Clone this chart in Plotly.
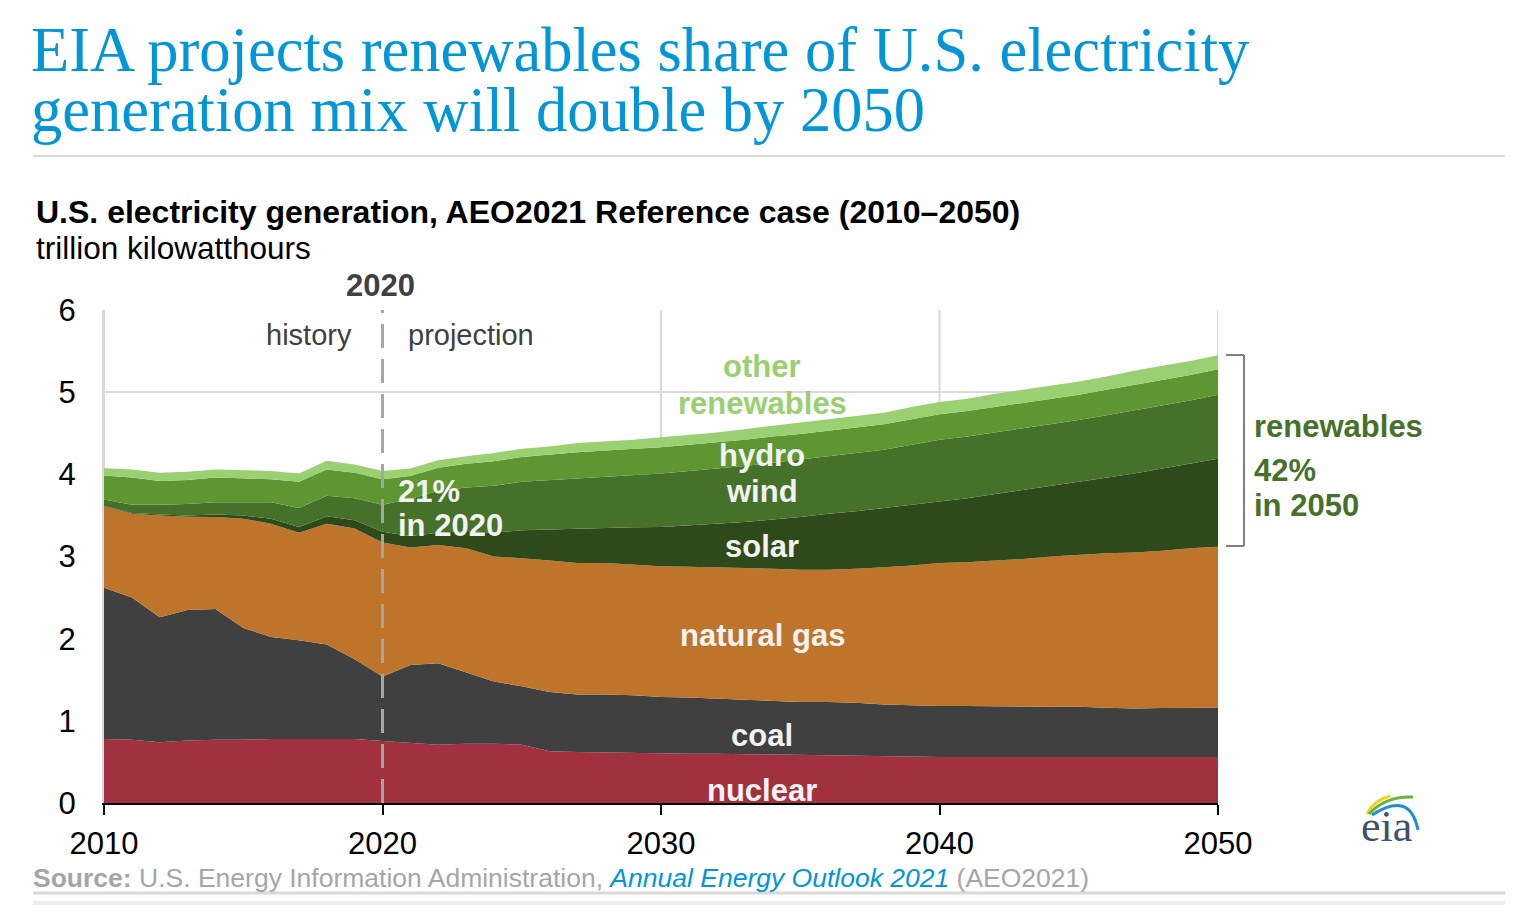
import plotly.graph_objects as go

# U.S. electricity generation, trillion kWh (AEO2021 Reference case)
years = list(range(2010, 2051))

nuclear = [0.78, 0.77, 0.74, 0.76, 0.77, 0.77, 0.78, 0.78, 0.78, 0.78, 0.755,
           0.73, 0.71, 0.72, 0.72, 0.71, 0.63, 0.62, 0.615, 0.605, 0.605,
           0.60, 0.60, 0.595, 0.59, 0.58, 0.575, 0.57, 0.565, 0.56, 0.56,
           0.56, 0.56, 0.565, 0.565, 0.565, 0.565, 0.56, 0.56, 0.56, 0.56]
coal = [1.84, 1.73, 1.52, 1.59, 1.59, 1.36, 1.24, 1.20, 1.15, 0.97, 0.785,
        0.95, 0.99, 0.87, 0.76, 0.71, 0.72, 0.70, 0.705, 0.705, 0.685,
        0.685, 0.67, 0.665, 0.655, 0.65, 0.655, 0.65, 0.635, 0.63, 0.62,
        0.62, 0.62, 0.61, 0.605, 0.605, 0.595, 0.59, 0.595, 0.60, 0.60]
natural_gas = [0.99, 1.02, 1.24, 1.135, 1.12, 1.33, 1.38, 1.31, 1.47, 1.59, 1.63,
               1.43, 1.44, 1.51, 1.52, 1.56, 1.60, 1.60, 1.60, 1.59, 1.59,
               1.59, 1.60, 1.60, 1.605, 1.61, 1.61, 1.63, 1.67, 1.70, 1.74,
               1.75, 1.77, 1.795, 1.83, 1.85, 1.88, 1.90, 1.915, 1.94, 1.96]
solar = [0.005, 0.01, 0.01, 0.015, 0.03, 0.04, 0.06, 0.07, 0.09, 0.10, 0.13,
         0.14, 0.15, 0.21, 0.29, 0.34, 0.38, 0.42, 0.43, 0.455, 0.48,
         0.505, 0.53, 0.56, 0.60, 0.64, 0.68, 0.70, 0.72, 0.74, 0.75,
         0.78, 0.81, 0.84, 0.86, 0.89, 0.92, 0.96, 1.00, 1.03, 1.07]
wind = [0.08, 0.10, 0.12, 0.14, 0.15, 0.16, 0.20, 0.23, 0.25, 0.27, 0.33,
        0.45, 0.51, 0.53, 0.57, 0.59, 0.60, 0.61, 0.62, 0.635, 0.65,
        0.66, 0.67, 0.68, 0.69, 0.70, 0.70, 0.71, 0.71, 0.73, 0.75,
        0.75, 0.75, 0.75, 0.75, 0.75, 0.76, 0.77, 0.77, 0.77, 0.78]
hydro = [0.29, 0.33, 0.29, 0.29, 0.30, 0.29, 0.28, 0.32, 0.32, 0.31, 0.31,
         0.28, 0.28, 0.29, 0.30, 0.30, 0.31, 0.32, 0.32, 0.32, 0.32,
         0.32, 0.32, 0.32, 0.32, 0.31, 0.31, 0.31, 0.31, 0.31, 0.31,
         0.31, 0.31, 0.31, 0.31, 0.31, 0.31, 0.31, 0.31, 0.31, 0.31]
other_renewables = [0.09, 0.10, 0.10, 0.10, 0.10, 0.10, 0.10, 0.10, 0.105, 0.10, 0.10,
                    0.09, 0.09, 0.09, 0.10, 0.10, 0.10, 0.11, 0.11, 0.11, 0.12,
                    0.12, 0.12, 0.13, 0.13, 0.14, 0.14, 0.14, 0.14, 0.15, 0.15,
                    0.15, 0.16, 0.16, 0.16, 0.16, 0.16, 0.17, 0.17, 0.17, 0.17]

series = [
    ("nuclear", nuclear, "#a2313f"),
    ("coal", coal, "#404040"),
    ("natural gas", natural_gas, "#be742b"),
    ("solar", solar, "#2e4a1a"),
    ("wind", wind, "#46712a"),
    ("hydro", hydro, "#5e9732"),
    ("other renewables", other_renewables, "#9acf72"),
]

# page body adds an 8px margin, so the figure is drawn 8px in from the corner
OFF = 8
W, H = 1524 - 2 * OFF, 914 - 2 * OFF
L, R, T, B = 104, 1218, 310, 803  # plot area in screen pixels

SANS = "Liberation Sans, Arial, sans-serif"
SERIF = "Liberation Serif, Times New Roman, serif"


def px(x):
    return (x - L) / (R - L)


def py(y):
    return (B - y) / (B - T)


fig = go.Figure()
for name, vals, color in series:
    fig.add_trace(go.Scatter(x=years, y=vals, name=name, stackgroup="one",
                             mode="lines", line=dict(width=0, color=color),
                             fillcolor=color, hoverinfo="skip"))

ann = []


def text(s, x, y, size=31, color="#f2f2f2", bold=False, anchor="center", font=SANS):
    if bold:
        s = "<b>" + s + "</b>"
    ann.append(dict(text=s, x=px(x), y=py(y), xref="paper", yref="paper",
                    xanchor=anchor, yanchor="middle", showarrow=False,
                    font=dict(family=font, size=size, color=color)))


# titles
text("EIA projects renewables share of U.S. electricity", 29, 50, size=62.5,
     color="#0096d7", anchor="left", font=SERIF)
text("generation mix will double by 2050", 29, 110, size=62.5,
     color="#0096d7", anchor="left", font=SERIF)
text("U.S. electricity generation, AEO2021 Reference case (2010\u20132050)", 34, 212,
     size=32, color="#000000", bold=True, anchor="left")
text("trillion kilowatthours", 34, 248, size=31.5, color="#000000", anchor="left")

# history / projection
text("2020", 380, 285, size=31, color="#404040", bold=True)
text("history", 309, 335, size=29, color="#404040")
text("projection", 406, 335, size=29, color="#404040", anchor="left")

# area labels
text("21%", 396, 491, bold=True, anchor="left")
text("in 2020", 396, 525, bold=True, anchor="left")
text("other", 762, 366, color="#9acf72", bold=True)
text("renewables", 762, 403, color="#9acf72", bold=True)
text("hydro", 762, 455, bold=True)
text("wind", 762, 491, bold=True)
text("solar", 762, 546, bold=True)
text("natural gas", 762, 635, bold=True)
text("coal", 762, 735, bold=True)
text("nuclear", 762, 790, bold=True)

# renewables bracket label
text("renewables", 1252, 426, color="#46712a", bold=True, anchor="left")
text("42%", 1252, 470, color="#46712a", bold=True, anchor="left")
text("in 2050", 1252, 505, color="#46712a", bold=True, anchor="left")

# source
ann.append(dict(
    text="<b>Source:</b> U.S. Energy Information Administration, "
         "<i><span style='color:#0096d7'>Annual Energy Outlook 2021</span></i> (AEO2021)",
    x=px(31), y=py(878), xref="paper", yref="paper", xanchor="left", yanchor="middle",
    showarrow=False, font=dict(family=SANS, size=26.5, color="#a6a6a6")))

# eia logo
text("eia", 1386, 826, size=44, color="#3d5266", font=SERIF)

shapes = []


def hline(x0, x1, y, color, width):
    shapes.append(dict(type="line", xref="paper", yref="paper", x0=px(x0), x1=px(x1),
                       y0=py(y), y1=py(y), line=dict(color=color, width=width)))


hline(33, 1505, 156, "#d9d9d9", 2)
hline(33, 1505, 893, "#d9d9d9", 3)
hline(33, 1505, 903, "#eeeeee", 4)

# vertical grid lines (2020 replaced by dashed divider)
for gx in [2010, 2030, 2040, 2050]:
    shapes.append(dict(type="line", xref="x", yref="paper", x0=gx, x1=gx, y0=0, y1=1,
                       layer="below", line=dict(color="#d9d9d9", width=2)))

shapes.append(dict(type="line", xref="x", yref="paper", x0=2020, x1=2020, y0=0, y1=1,
                   line=dict(color="#a6a6a6", width=3, dash="24px,11px")))

# bracket
bx = 1244
for y0, y1, x0, x1 in [(355, 546, bx, bx), (355, 355, 1226, bx), (546, 546, 1226, bx)]:
    shapes.append(dict(type="line", xref="paper", yref="paper", x0=px(x0), x1=px(x1),
                       y0=py(y0), y1=py(y1), line=dict(color="#808080", width=2)))


def arc(pts, color, width):
    (x0, y0), (cx, cy), (x1, y1) = pts
    path = "M %f %f Q %f %f %f %f" % (px(x0), py(y0), px(cx), py(cy), px(x1), py(y1))
    shapes.append(dict(type="path", xref="paper", yref="paper", path=path,
                       line=dict(color=color, width=width)))


arc([(1367, 814), (1374, 800), (1390, 796)], "#f2d21b", 3)
arc([(1369, 814), (1385, 796), (1413, 797)], "#6ab43e", 3)
arc([(1372, 815), (1410, 790), (1418, 830)], "#1b8fd1", 3)

fig.update_layout(
    width=W, height=H,
    margin=dict(l=L - OFF, r=W - (R - OFF), t=T - OFF, b=H - (B - OFF)),
    paper_bgcolor="white", plot_bgcolor="white",
    showlegend=False,
    annotations=ann, shapes=shapes,
    xaxis=dict(range=[2010, 2050], tickvals=[2010, 2020, 2030, 2040, 2050],
               showgrid=False, zeroline=False, showline=True, linecolor="#000000",
               linewidth=2, ticks="outside", ticklen=10, tickwidth=2, tickcolor="#000000",
               tickfont=dict(family=SANS, size=31, color="#000000"),
               ticklabelstandoff=2),
    yaxis=dict(range=[0, 6], tickvals=[0, 1, 2, 3, 4, 5, 6], showgrid=True,
               gridcolor="#d9d9d9", gridwidth=2, zeroline=False, showline=True,
               linecolor="#d9d9d9", linewidth=2, ticks="",
               tickfont=dict(family=SANS, size=31, color="#000000"),
               ticklabelstandoff=20),
)

fig.write_html("out.html")
